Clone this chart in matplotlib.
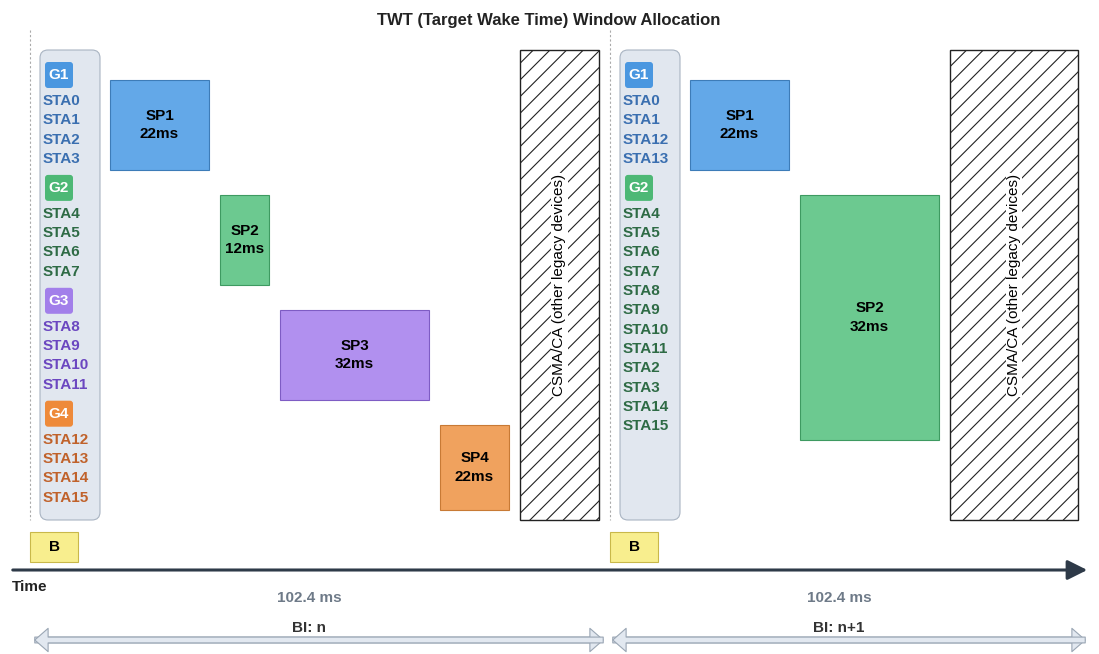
import matplotlib
matplotlib.use('Agg')
import matplotlib.pyplot as plt
from matplotlib.patches import Rectangle, FancyBboxPatch, FancyArrowPatch

plt.rcParams['font.family'] = ['Liberation Sans', 'DejaVu Sans']
plt.rcParams['hatch.linewidth'] = 0.8

# service periods: label, duration, x0, x1, y0, y1, fill, edge
SP_LABELS = ['SP1', 'SP2', 'SP3', 'SP4', 'SP1', 'SP2']
SP_DUR = ['22ms', '12ms', '32ms', '22ms', '22ms', '32ms']
SP_X0 = [110, 220, 280, 440, 690, 800]
SP_X1 = [209, 269, 429, 509, 789, 939]
SP_Y0 = [80, 195, 310, 425, 80, 195]
SP_Y1 = [170, 285, 400, 510, 170, 440]
SP_FILL = ['#63A8E8', '#6CC990', '#B190EF', '#F0A25E', '#63A8E8', '#6CC990']
SP_EDGE = ['#3D7CB8', '#3E9A61', '#7E5CC4', '#C87A35', '#3D7CB8', '#3E9A61']

CSMA_X = [(520, 599), (950, 1078)]
PANEL_X = [40, 620]
BEACON_X = [30, 610]
BI_LABELS = ['BI: n', 'BI: n+1']
BI_SPAN = [(32, 606), (610, 1088)]

GROUP_COL = {'G1': ('#4A97E0', '#3A6FB0'), 'G2': ('#4DB875', '#2E6B45'),
             'G3': ('#A27FEA', '#6B47C0'), 'G4': ('#EE8A3A', '#C0622B')}
GROUPS_1 = [('G1', ['STA0', 'STA1', 'STA2', 'STA3']),
            ('G2', ['STA4', 'STA5', 'STA6', 'STA7']),
            ('G3', ['STA8', 'STA9', 'STA10', 'STA11']),
            ('G4', ['STA12', 'STA13', 'STA14', 'STA15'])]
GROUPS_2 = [('G1', ['STA0', 'STA1', 'STA12', 'STA13']),
            ('G2', ['STA4', 'STA5', 'STA6', 'STA7', 'STA8', 'STA9', 'STA10',
                    'STA11', 'STA2', 'STA3', 'STA14', 'STA15'])]

fig = plt.figure(figsize=(10.99, 6.54), dpi=100)
ax = fig.add_axes([0, 0, 1, 1])
ax.set_xlim(0, 1099)
ax.set_ylim(654, 0)
ax.axis('off')

ax.text(549, 20, 'TWT (Target Wake Time) Window Allocation', ha='center', va='center',
        fontsize=12, fontweight='bold', color='#222222')

for bx in BEACON_X:
    ax.plot([bx, bx], [30, 520], color='#AAAAAA', lw=0.8, ls=(0, (2, 2)))
    ax.add_patch(Rectangle((bx, 532), 48, 30, fc='#F8EE8E', ec='#C9B84A', lw=0.8))
    ax.text(bx + 24, 547, 'B', ha='center', va='center', fontsize=11, fontweight='bold')

for px, groups in zip(PANEL_X, [GROUPS_1, GROUPS_2]):
    ax.add_patch(FancyBboxPatch((px, 50), 60, 470, boxstyle='round,pad=0,rounding_size=8',
                                fc='#E1E7EF', ec='#A9B4C2', lw=0.8))
    y = 75
    for g, stas in groups:
        badge, tc = GROUP_COL[g]
        ax.add_patch(FancyBboxPatch((px + 5, y - 13), 28, 26, boxstyle='round,pad=0,rounding_size=3',
                                    fc=badge, ec='none'))
        ax.text(px + 19, y, g, ha='center', va='center', fontsize=11, fontweight='bold', color='white')
        y += 26
        for s in stas:
            ax.text(px + 3, y, s, ha='left', va='center', fontsize=11, fontweight='bold', color=tc)
            y += 19.3
        y += 9.7

for lab, d, x0, x1, y0, y1, fc, ec in zip(SP_LABELS, SP_DUR, SP_X0, SP_X1, SP_Y0, SP_Y1, SP_FILL, SP_EDGE):
    ax.add_patch(Rectangle((x0, y0), x1 - x0, y1 - y0, fc=fc, ec=ec, lw=0.8))
    ax.text((x0 + x1) / 2, (y0 + y1) / 2, f'{lab}\n{d}', ha='center', va='center',
            fontsize=11, fontweight='bold', linespacing=1.4)

for x0, x1 in CSMA_X:
    ax.add_patch(Rectangle((x0, 50), x1 - x0, 470, fc='white', ec='#222222', lw=1, hatch='//'))
    ax.text((x0 + x1) / 2, 285, 'CSMA/CA (other legacy devices)', ha='center', va='center',
            rotation=90, fontsize=11, bbox=dict(fc='white', ec='none', pad=1))

ax.add_patch(FancyArrowPatch((10, 570), (1090, 570), arrowstyle='-|>,head_length=8,head_width=4',
                             color='#2E3A48', lw=2.2, mutation_scale=1.5))
ax.text(12, 587, 'Time', ha='left', va='center', fontsize=11, fontweight='bold', color='#222222')

for lab, (x0, x1) in zip(BI_LABELS, BI_SPAN):
    mid = (x0 + x1) / 2 - 10
    ax.text(mid, 598, '102.4 ms', ha='center', va='center', fontsize=11, fontweight='bold', color='#6E7A88')
    ax.text(mid, 628, lab, ha='center', va='center', fontsize=11, fontweight='bold', color='#333333')
    ax.add_patch(FancyArrowPatch((x0, 640), (x1, 640),
                                 arrowstyle='simple,head_length=0.8,head_width=1.4,tail_width=0.35',
                                 mutation_scale=12, fc='#E2E8F0', ec='#9AA6B4', lw=0.8))
    ax.add_patch(FancyArrowPatch((x1, 640), (x0, 640),
                                 arrowstyle='simple,head_length=0.8,head_width=1.4,tail_width=0.35',
                                 mutation_scale=12, fc='#E2E8F0', ec='#9AA6B4', lw=0.8))

fig.savefig('out.png', dpi=100)
